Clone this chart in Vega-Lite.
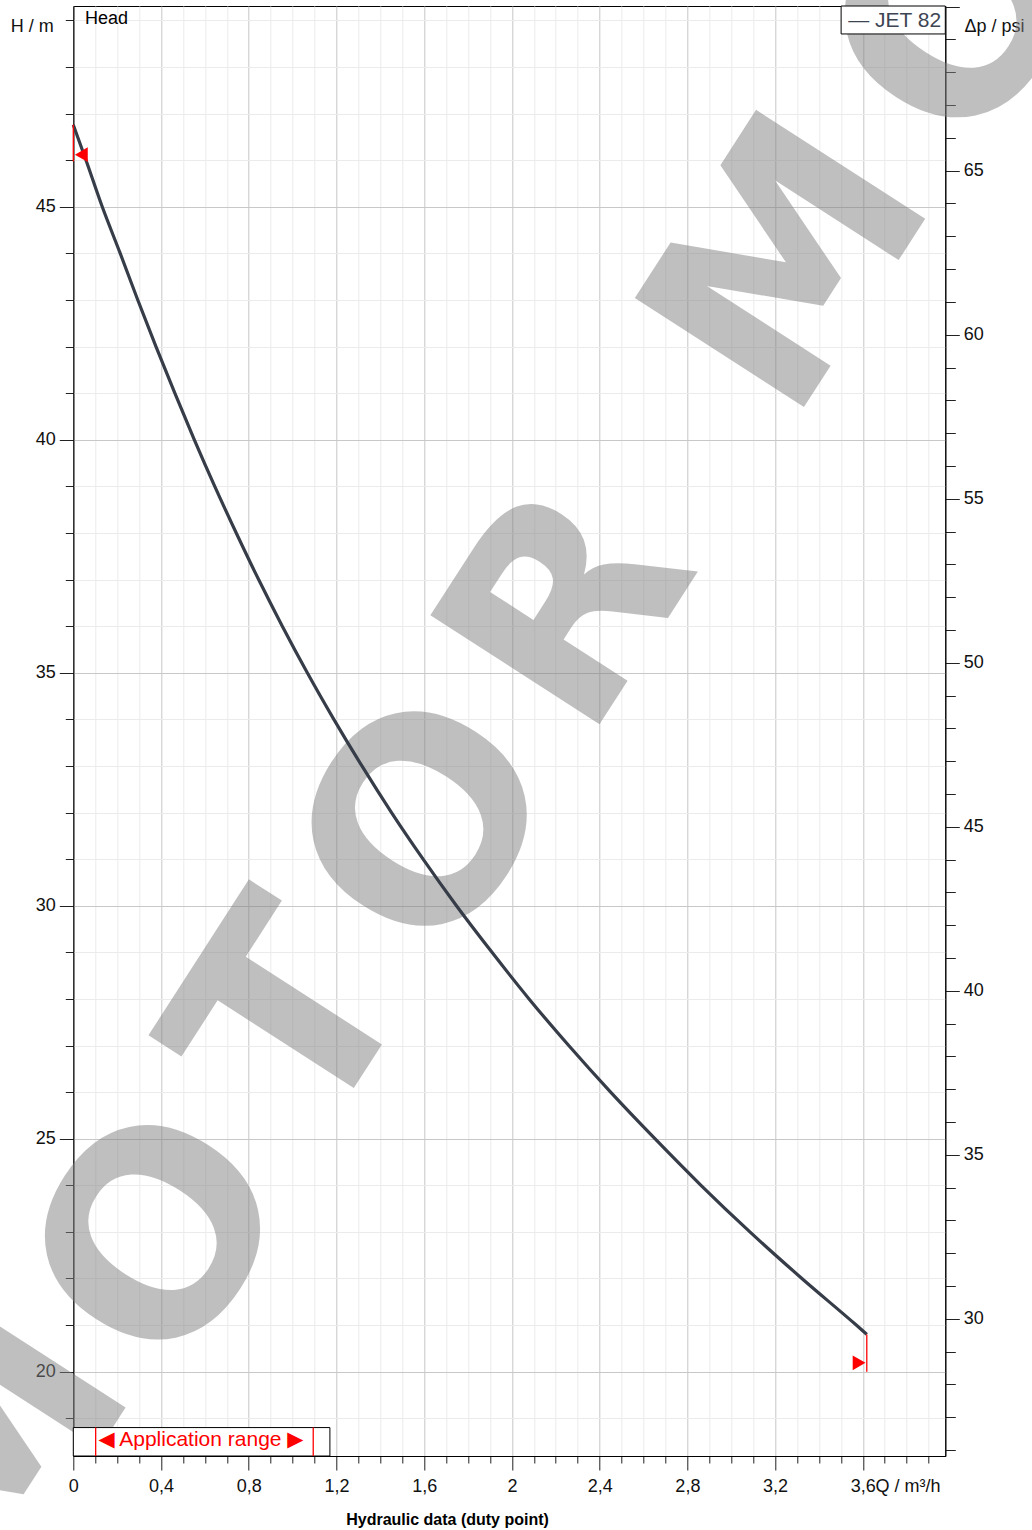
{
  "$schema": "https://vega.github.io/schema/vega-lite/v6.json",
  "width": 872,
  "height": 1450,
  "autosize": "none",
  "padding": {"left": 73.3, "top": 6, "right": 86.7, "bottom": 74},
  "background": "white",
  "config": {
    "view": {"stroke": "#000", "strokeWidth": 1},
    "font": "Liberation Sans",
    "axis": {
      "labelFont": "Liberation Sans",
      "titleFont": "Liberation Sans",
      "labelFontSize": 18,
      "titleFontSize": 18,
      "titleFontWeight": "normal",
      "labelColor": "#111",
      "titleColor": "#111",
      "domainColor": "#000",
      "domainWidth": 1,
      "tickColor": "#222",
      "labelOverlap": false,
      "labelFlush": false
    }
  },
  "datasets": {
    "curve": [
      {"Q": 0, "H": 46.76},
      {"Q": 0.058, "H": 46},
      {"Q": 0.132, "H": 45},
      {"Q": 0.214, "H": 44},
      {"Q": 0.294, "H": 43},
      {"Q": 0.377, "H": 42},
      {"Q": 0.463, "H": 41},
      {"Q": 0.552, "H": 40},
      {"Q": 0.645, "H": 39},
      {"Q": 0.743, "H": 38},
      {"Q": 0.845, "H": 37},
      {"Q": 0.953, "H": 36},
      {"Q": 1.067, "H": 35},
      {"Q": 1.188, "H": 34},
      {"Q": 1.316, "H": 33},
      {"Q": 1.451, "H": 32},
      {"Q": 1.595, "H": 31},
      {"Q": 1.747, "H": 30},
      {"Q": 1.909, "H": 29},
      {"Q": 2.078, "H": 28},
      {"Q": 2.259, "H": 27},
      {"Q": 2.45, "H": 26},
      {"Q": 2.652, "H": 25},
      {"Q": 2.862, "H": 24},
      {"Q": 3.085, "H": 23},
      {"Q": 3.322, "H": 22},
      {"Q": 3.57, "H": 21},
      {"Q": 3.618, "H": 20.8}
    ],
    "rangeLines": [
      {"Q": 0, "H": 46.76, "H2": 45.97},
      {"Q": 3.618, "H": 20.8, "H2": 20.0},
      {"Q": 0.102, "H": 18.19, "H2": 18.8},
      {"Q": 1.094, "H": 18.19, "H2": 18.8}
    ],
    "markersLeft": [{"Q": 0.0366, "H": 46.12}],
    "markersRight": [{"Q": 3.583, "H": 20.19}],
    "boxes": [
      {"Q": 0, "Q2": 1.17, "H": 18.19, "H2": 18.8},
      {"Q": 3.501, "Q2": 3.976, "H": 48.71, "H2": 49.31}
    ],
    "headLabel": [{"Q": 0.0534, "H": 48.93, "text": "Head"}],
    "legendLabel": [{"Q": 3.957, "H": 48.87, "text": "— JET 82"}],
    "rangeLabel": [{"Q": 0.582, "H": 18.405, "text": "◀ Application range ▶"}],
    "watermark": [
      {"Q": -0.356, "H": 18.18, "letter": "M"},
      {"Q": 0.428, "H": 22.789, "letter": "O"},
      {"Q": 1.025, "H": 27.52, "letter": "T"},
      {"Q": 1.644, "H": 31.669, "letter": "O"},
      {"Q": 2.281, "H": 36.32, "letter": "R"},
      {"Q": 3.29, "H": 43.689, "letter": "M"},
      {"Q": 4.075, "H": 49.02, "letter": "O"}
    ],
    "psiAxis": [{"psi": 30, "Q": 1}]
  },
  "layer": [
    {
      "encoding": {
        "x": {
          "field": "Q",
          "type": "quantitative",
          "scale": {"domain": [0, 3.976], "nice": false, "zero": false},
          "axis": {
            "orient": "bottom",
            "values": [0, 0.1, 0.2, 0.3, 0.4, 0.5, 0.6, 0.7, 0.8, 0.9, 1, 1.1, 1.2, 1.3, 1.4, 1.5, 1.6, 1.7, 1.8, 1.9, 2, 2.1, 2.2, 2.3, 2.4, 2.5, 2.6, 2.7, 2.8, 2.9, 3, 3.1, 3.2, 3.3, 3.4, 3.5, 3.6, 3.7, 3.8, 3.9],
            "labelExpr": "round(datum.value*10) % 4 === 0 ? replace(format(datum.value, '.1~f'), '.', ',') : ''",
            "tickSize": {"condition": {"test": "round(datum.value*10) % 4 === 0", "value": 14}, "value": 7},
            "labelPadding": 7,
            "grid": true,
            "gridColor": {"condition": {"test": "round(datum.value*10) % 4 === 0", "value": "#c6c6c6"}, "value": "#ebebeb"},
            "title": "Q / m³/h",
            "titleX": 801.7,
            "titleY": 35,
            "titleAlign": "left",
            "titleBaseline": "alphabetic"
          }
        },
        "y": {
          "field": "H",
          "type": "quantitative",
          "scale": {"domain": [18.19, 49.31], "nice": false, "zero": false},
          "axis": {
            "values": [19, 20, 21, 22, 23, 24, 25, 26, 27, 28, 29, 30, 31, 32, 33, 34, 35, 36, 37, 38, 39, 40, 41, 42, 43, 44, 45, 46, 47, 48, 49],
            "labelExpr": "datum.value % 5 === 0 ? datum.label : ''",
            "tickSize": {"condition": {"test": "datum.value % 5 === 0", "value": 14}, "value": 8},
            "labelPadding": 4,
            "grid": true,
            "gridColor": {"condition": {"test": "datum.value % 5 === 0", "value": "#c8c8c8"}, "value": "#ebebeb"},
            "title": "H / m",
            "titleAngle": 0,
            "titleX": -20,
            "titleY": 25.7,
            "titleAlign": "right",
            "titleBaseline": "alphabetic"
          }
        }
      },
      "layer": [
        {
          "data": {"name": "watermark"},
          "mark": {"type": "text", "align": "center", "baseline": "middle", "fontSize": 276, "fontWeight": "bold", "font": "DejaVu Sans", "angle": -57.2, "color": "#808080", "opacity": 0.5},
          "encoding": {"text": {"field": "letter"}}
        },
        {
          "data": {"name": "curve"},
          "mark": {"type": "line", "color": "#363d48", "strokeWidth": 3.2, "interpolate": "monotone"}
        },
        {
          "data": {"name": "rangeLines"},
          "mark": {"type": "rule", "color": "#ff0000", "strokeWidth": 1.3},
          "encoding": {"y2": {"field": "H2"}}
        },
        {
          "data": {"name": "markersLeft"},
          "mark": {"type": "point", "shape": "triangle-left", "filled": true, "color": "#ff0000", "size": 220, "opacity": 1}
        },
        {
          "data": {"name": "markersRight"},
          "mark": {"type": "point", "shape": "triangle-right", "filled": true, "color": "#ff0000", "size": 220, "opacity": 1}
        },
        {
          "data": {"name": "boxes"},
          "mark": {"type": "rect", "fill": "white", "stroke": "#000", "strokeWidth": 1},
          "encoding": {"x2": {"field": "Q2"}, "y2": {"field": "H2"}}
        },
        {
          "data": {"name": "rangeLines"},
          "transform": [{"filter": "datum.H < 19"}],
          "mark": {"type": "rule", "color": "#ff0000", "strokeWidth": 1.3},
          "encoding": {"y2": {"field": "H2"}}
        },
        {
          "data": {"name": "headLabel"},
          "mark": {"type": "text", "align": "left", "baseline": "alphabetic", "fontSize": 18, "font": "Liberation Sans", "color": "#000"},
          "encoding": {"text": {"field": "text"}}
        },
        {
          "data": {"name": "legendLabel"},
          "mark": {"type": "text", "align": "right", "baseline": "alphabetic", "fontSize": 21, "font": "Liberation Sans", "color": "#3d4553"},
          "encoding": {"text": {"field": "text"}}
        },
        {
          "data": {"name": "rangeLabel"},
          "mark": {"type": "text", "align": "center", "baseline": "alphabetic", "fontSize": 21, "font": "Liberation Sans, DejaVu Sans", "color": "#ff0000"},
          "encoding": {"text": {"field": "text"}}
        }
      ]
    },
    {
      "data": {"name": "psiAxis"},
      "mark": {"type": "point", "opacity": 0},
      "encoding": {
        "x": {
          "field": "Q",
          "type": "quantitative",
          "scale": {"domain": [0, 3.976], "nice": false, "zero": false},
          "axis": {
            "orient": "bottom",
            "domain": false,
            "ticks": false,
            "labels": false,
            "grid": false,
            "title": "Hydraulic data (duty point)",
            "titleFontSize": 16,
            "titleFontWeight": "bold",
            "titleColor": "#000",
            "titleX": 373.7,
            "titleY": 68.7,
            "titleAlign": "center",
            "titleBaseline": "alphabetic"
          }
        },
        "y": {
          "field": "psi",
          "type": "quantitative",
          "scale": {"domain": [25.82, 70.02], "nice": false, "zero": false},
          "axis": {
            "orient": "right",
            "values": [26, 27, 28, 29, 30, 31, 32, 33, 34, 35, 36, 37, 38, 39, 40, 41, 42, 43, 44, 45, 46, 47, 48, 49, 50, 51, 52, 53, 54, 55, 56, 57, 58, 59, 60, 61, 62, 63, 64, 65, 66, 67, 68, 69, 70],
            "labelExpr": "datum.value % 5 === 0 && datum.value < 70 ? datum.label : ''",
            "tickSize": {"condition": {"test": "datum.value % 5 === 0", "value": 14}, "value": 10},
            "labelPadding": 4,
            "grid": false,
            "title": "Δp / psi",
            "titleAngle": 0,
            "titleX": 18.7,
            "titleY": 25.7,
            "titleAlign": "left",
            "titleBaseline": "alphabetic"
          }
        }
      }
    }
  ],
  "resolve": {"scale": {"y": "independent"}, "axis": {"x": "independent"}}
}
